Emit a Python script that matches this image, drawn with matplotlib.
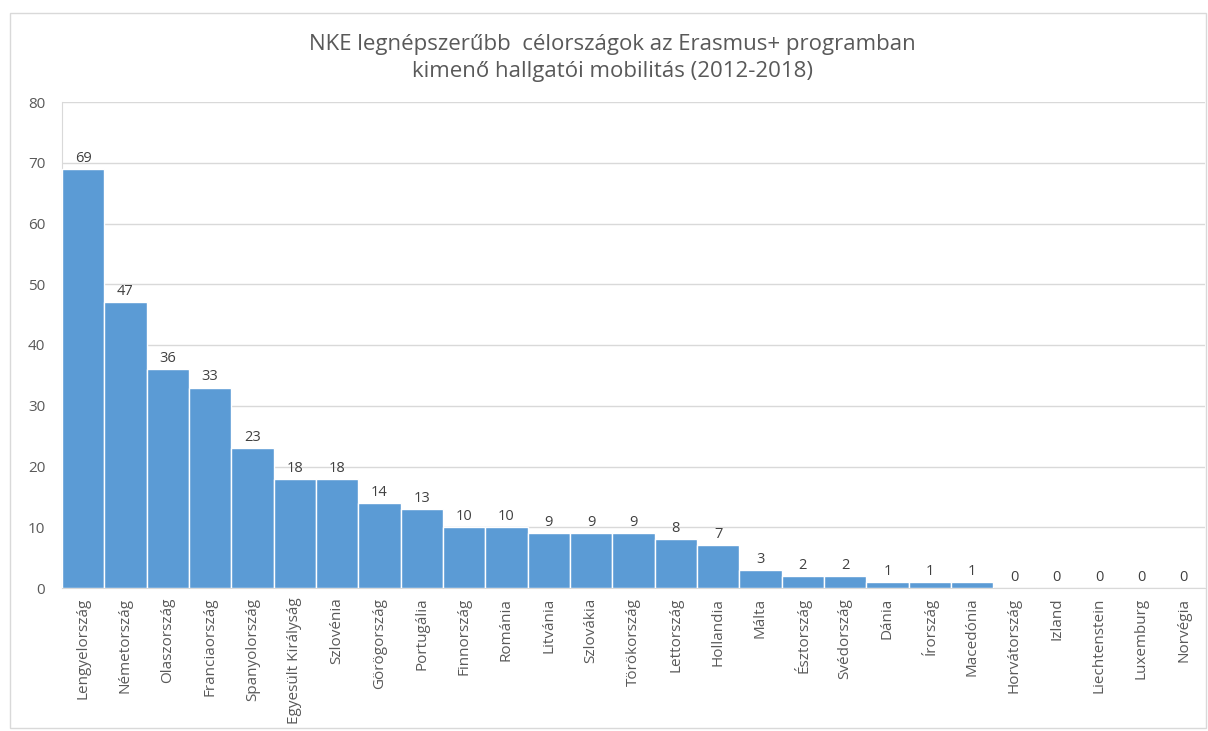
import matplotlib.pyplot as plt
from matplotlib.patches import Rectangle

countries = ["Lengyelország", "Németország", "Olaszország", "Franciaország", "Spanyolország",
             "Egyesült Királyság", "Szlovénia", "Görögország", "Portugália", "Finnország",
             "Románia", "Litvánia", "Szlovákia", "Törökország", "Lettország", "Hollandia",
             "Málta", "Észtország", "Svédország", "Dánia", "Írország", "Macedónia",
             "Horvátország", "Izland", "Liechtenstein", "Luxemburg", "Norvégia"]
students = [69, 47, 36, 33, 23, 18, 18, 14, 13, 10, 10, 9, 9, 9, 8, 7, 3, 2, 2, 1, 1, 1,
            0, 0, 0, 0, 0]

plt.rcParams['font.family'] = ['Open Sans', 'DejaVu Sans']
text_col = "#595959"

fig = plt.figure(figsize=(12.08, 7.31), dpi=100)
# chart area border
fig.patches.append(Rectangle((10 / 1208, 0.004), 1196 / 1208, 1 - 13 / 731 - 0.004,
                             transform=fig.transFigure, fill=False,
                             edgecolor="#D9D9D9", linewidth=1))

ax = fig.add_axes([62 / 1208, 1 - 588 / 731, 1143 / 1208, 486 / 731])
x = range(len(countries))
bars = ax.bar(x, students, width=1.0, color="#5B9BD5", edgecolor="white", linewidth=1, zorder=3)

for xi, v in zip(x, students):
    ax.text(xi, v + 0.5, str(v), ha="center", va="bottom", fontsize=10.5, color="#404040")

ax.set_xlim(-0.5, len(countries) - 0.5)
ax.set_ylim(0, 80)
ax.set_yticks(range(0, 81, 10))
ax.yaxis.grid(True, color="#D9D9D9", linewidth=1, zorder=0)
ax.set_xticks(list(x))
ax.set_xticklabels(countries, rotation=90, fontsize=11, color=text_col)
ax.tick_params(axis="y", labelsize=11, labelcolor=text_col, length=0, pad=12)
ax.tick_params(axis="x", length=0, pad=7)

for s in ["top", "right"]:
    ax.spines[s].set_visible(False)
ax.spines["left"].set_color("#D9D9D9")
ax.spines["bottom"].set_color("#D9D9D9")

fig.text(0.507, 1 - 58 / 731,
         "NKE legnépszerűbb  célországok az Erasmus+ programban\nkimenő hallgatói mobilitás (2012-2018)",
         ha="center", va="center", fontsize=16, color=text_col, linespacing=1.4)

fig.savefig("out.png", dpi=100)
